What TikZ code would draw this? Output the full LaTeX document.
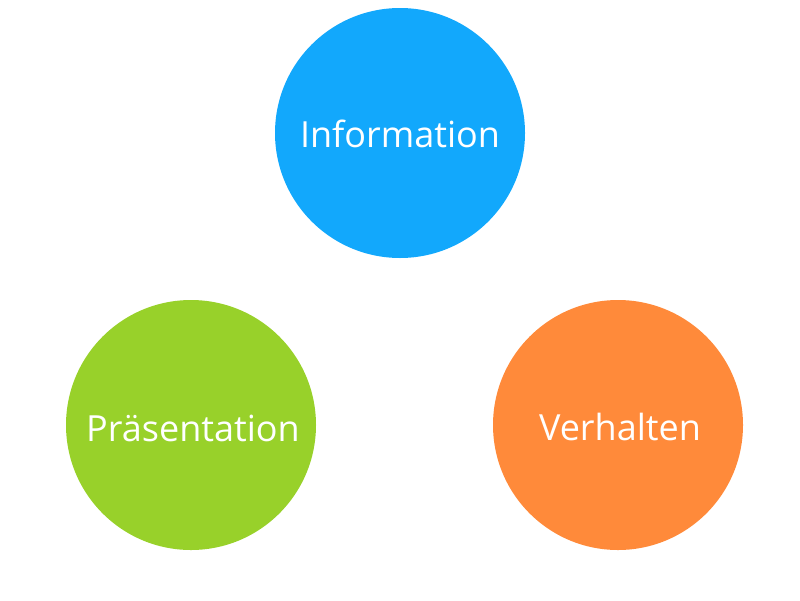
\documentclass[tikz,border=0pt]{standalone}
\usepackage{fontspec}
\setmainfont{Open Sans}
\definecolor{cblue}{HTML}{12A8FC}
\definecolor{cgreen}{HTML}{98D12A}
\definecolor{corange}{HTML}{FF8A3A}
\begin{document}
\begin{tikzpicture}[x=1pt,y=-1pt,
  bubble/.style={circle,minimum size=250pt,inner sep=0pt},
  lbl/.style={text=white,font=\fontsize{36}{42}\selectfont}]
\useasboundingbox (0,0) rectangle (800,600);
\node[bubble,fill=cblue] (info) at (400,133) {};
\node[bubble,fill=cgreen] (praes) at (191,425) {};
\node[bubble,fill=corange] (verh) at (618,425) {};
\node[lbl] (infot) at ([yshift=-1pt]info.center) {Information};
\node[lbl] (praest) at ([xshift=2pt,yshift=-3pt]praes.center) {Präsentation};
\node[lbl] (verht) at ([xshift=2pt,yshift=-2pt]verh.center) {Verhalten};
\end{tikzpicture}
\end{document}
